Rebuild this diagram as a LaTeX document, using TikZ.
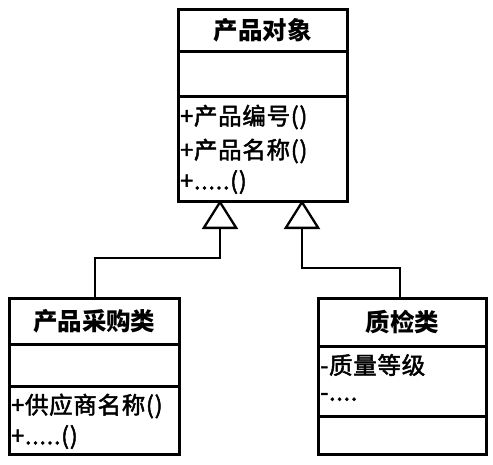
\documentclass[tikz,border=0pt]{standalone}
\usepackage{fontspec}
\setmainfont{Noto Sans CJK SC}
\newfontfamily\memfont[FakeBold=2,LetterSpace=3]{Noto Sans CJK SC}
\usetikzlibrary{arrows.meta}
\begin{document}
\begin{tikzpicture}[x=1pt,y=-1pt,line width=2.5pt,
  comp/.style={draw, inner sep=0pt, anchor=north west},
  ttl/.style={font=\fontsize{24.5}{24.5}\selectfont\bfseries},
  mem/.style={anchor=west, inner sep=0pt, font=\memfont\fontsize{23.5}{23.5}\selectfont},
  gen/.style={-{Triangle[open,length=29pt,width=36pt,fill=white]}, line width=2.3pt}]
\useasboundingbox (0,0) rectangle (493,464);
% top class
\node[comp, minimum width=169pt, minimum height=42pt, ttl] (pt) at (177,8) {产品对象};
\node[comp, minimum width=169pt, minimum height=45pt] (pa) at (177,50) {};
\node[comp, minimum width=169pt, minimum height=105pt] (pm) at (177,95) {};
\node[mem] (pm1) at (179,117) {+产品编号()};
\node[mem] (pm2) at (179,151) {+产品名称()};
\node[mem] (pm3) at (179,182) {+.....()};
% left class
\node[comp, minimum width=170pt, minimum height=46pt, ttl] (lt) at (8,297) {产品采购类};
\node[comp, minimum width=170pt, minimum height=42pt] (la) at (8,343) {};
\node[comp, minimum width=170pt, minimum height=68pt] (lm) at (8,385) {};
\node[mem] (lm1) at (10,406) {+供应商名称()};
\node[mem] (lm2) at (10,437) {+.....()};
% right class
\node[comp, minimum width=168pt, minimum height=48pt, ttl] (rt) at (317,297) {质检类};
\node[comp, minimum width=168pt, minimum height=70pt] (ra) at (317,345) {};
\node[comp, minimum width=168pt, minimum height=38pt] (rm) at (317,415) {};
\node[mem] (ra1) at (319,365) {-质量等级};
\node[mem] (ra2) at (319,397) {-....};
% generalisation
\coordinate (tl) at (220,200);
\coordinate (tr) at (302,200);
\coordinate (kl) at (95,258);
\coordinate (kr) at (400,268);
\draw[gen] (lt.north -| kl) -- (kl) -| (tl);
\draw[gen] (rt.north -| kr) -- (kr) -| (tr);
\end{tikzpicture}
\end{document}
